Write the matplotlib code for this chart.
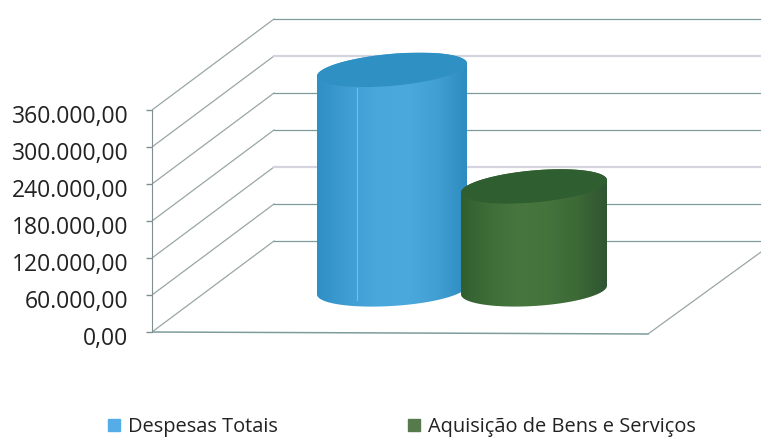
import numpy as np
import matplotlib
matplotlib.use('Agg')
import matplotlib.pyplot as plt
from matplotlib.colors import LinearSegmentedColormap
from matplotlib.patches import Patch, PathPatch
from matplotlib.path import Path
from matplotlib.transforms import ScaledTranslation

plt.rcParams['font.family'] = ['Open Sans', 'DejaVu Sans']

# data
categories = ['Despesas Totais', 'Aquisição de Bens e Serviços']
values = [357000, 168000]
ticks = [0, 60000, 120000, 180000, 240000, 300000, 360000]
tick_labels = ['0,00', '60.000,00', '120.000,00', '180.000,00', '240.000,00', '300.000,00', '360.000,00']

# 3d box, pixels
W, H = 761, 437
x0, y0, y_top = 152, 332, 110
depth_x, depth_y = 122, 91
floor_w = 496
per_px = ticks[-1] / (y0 - y_top)

fig = plt.figure(figsize=(W / 100, H / 100), dpi=100)
ax = fig.add_axes([x0 / W, 0, (W - x0) / W, 1])
ax.patch.set_alpha(0)


def project(x, v, d=0.0):
    return x + depth_x * d, v + depth_y * per_px * d


def wall_lines():
    light = [120000, 300000]
    for t in ticks:
        xs, ys = zip(project(0, t), project(0, t, 1), (W - x0, project(0, t, 1)[1]))
        ax.plot(xs[:2], ys[:2], color='#9aa6a6', lw=0.9, zorder=1)
        ax.plot(xs[1:], ys[1:], color='#d4d4e0' if t in light else '#7f9c9c',
                lw=1.6 if t in light else 0.9, zorder=1)
    ax.plot([0, floor_w], [0, -2 * per_px], color='#7f9c9c', lw=1.1, zorder=1)
    ax.plot([floor_w, floor_w + 113], [-2 * per_px, 80 * per_px], color='#9aa6a6', lw=0.9, zorder=1)


def cylinder(cx, a, value, colors, cap_color, z):
    b, shear = 16 * per_px, 0.085 * per_px
    base = 42 * per_px
    t = np.linspace(0, np.pi, 60)
    dx = a * np.cos(t)
    top_arc = base + value + b * np.sin(t) + shear * dx
    low_arc = base - b * np.sin(t) + 0.7 * shear * dx

    xs = np.r_[cx + dx, (cx + dx)[::-1]]
    ys = np.r_[top_arc, low_arc[::-1]]
    body = Path(np.c_[xs, ys])
    cmap = LinearSegmentedColormap.from_list('c', colors)
    im = ax.imshow(np.linspace(0, 1, 200).reshape(1, -1), cmap=cmap, aspect='auto',
                   extent=[cx - a, cx + a, ys.min(), ys.max()], zorder=z)
    patch = PathPatch(body, fc='none', ec='none', transform=ax.transData)
    ax.add_patch(patch)
    im.set_clip_path(patch)

    cap_y = np.r_[top_arc, (base + value - b * np.sin(t) + shear * dx)[::-1]]
    ax.fill(xs, cap_y, color=cap_color, lw=0, zorder=z + 0.1)


wall_lines()
cylinder(240, 75, values[0],
         ['#2f90c6', '#3f9dd3', '#4aa7dc', '#4ca9de', '#429fd4', '#2f8cc0'], '#2f90c4', 3)
cylinder(382, 73, values[1],
         ['#335f2f', '#3f6e39', '#47773f', '#44733c', '#3c6936', '#2f5532'], '#2f5e30', 4)
ax.plot([205, 205], [32 * per_px, 244 * per_px], color='#7cbde0', lw=0.8, zorder=3.5)

ax.set_xlim(0, W - x0)
ax.set_ylim(-(H - y0) * per_px, y0 * per_px)
ax.set_yticks(ticks)
ax.set_yticklabels(tick_labels, fontsize=16.5, color='#222222')
ax.tick_params(axis='y', length=4, width=1, color='#7f8f8f', pad=13)
ax.set_xticks([])
for s in ['top', 'right', 'bottom']:
    ax.spines[s].set_visible(False)
ax.spines['left'].set_bounds(0, ticks[-1])
ax.spines['left'].set_color('#7f8f8f')
shift = ScaledTranslation(0, -4 / 100, fig.dpi_scale_trans)
for lbl in ax.get_yticklabels():
    lbl.set_transform(lbl.get_transform() + shift)

handles = [Patch(color='#55ade8', label=categories[0]), Patch(color='#567a4c', label=categories[1])]
fig.legend(handles=handles, ncol=2, loc='center left', bbox_to_anchor=(108 / W, 1 - 427 / H),
           frameon=False, fontsize=14.4, labelcolor='#222222', handlelength=0.6, handleheight=0.6,
           handletextpad=0.4, columnspacing=6.5, borderpad=0, borderaxespad=0)

fig.savefig('out.png', dpi=100)
